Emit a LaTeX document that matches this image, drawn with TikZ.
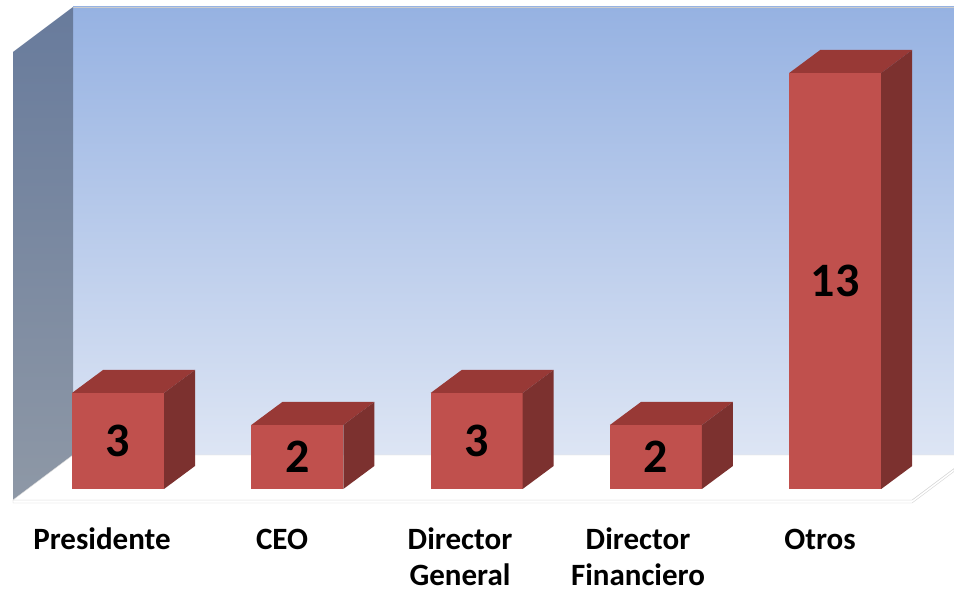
\documentclass[tikz,border=0pt]{standalone}
\usepackage{fontspec}
\setmainfont{Carlito}
\definecolor{barfront}{RGB}{192,80,77}
\definecolor{bartop}{RGB}{152,57,54}
\definecolor{barside}{RGB}{124,49,47}
\definecolor{walltop}{RGB}{150,178,226}
\definecolor{wallbot}{RGB}{221,229,244}
\definecolor{sidetop}{RGB}{104,123,156}
\definecolor{sidebot}{RGB}{142,152,166}
\tikzset{
  barlabel/.style={font=\fontsize{31}{36}\selectfont\bfseries, align=center, anchor=base, inner sep=0pt},
  barvalue/.style={font=\fontsize{48}{52}\selectfont\bfseries, inner sep=0pt}
}

\begin{document}
\begin{tikzpicture}[x=1pt,y=-1pt]
  \useasboundingbox (0,0) rectangle (954,593);
  % back wall and side wall
  \shade[top color=walltop, bottom color=wallbot] (73,7) rectangle (954,455);
  \draw[gray!40] (73,7) -- (954,7);
  \shade[top color=sidetop, bottom color=sidebot] (13,52) -- (73,7) -- (73,455) -- (13,500) -- cycle;
  % floor
  \draw[gray!35, fill=white] (13,503) -- (912,503) -- (954,471.5) -- (954,468.5) -- (912,500) -- (13,500) -- cycle;
  \draw[gray!35, fill=white] (13,500) -- (73,455) -- (972,455) -- (912,500) -- cycle;
  % bars
  \foreach \v [count=\i from 0] in {3,2,3,2,13} {
    \pgfmathsetmacro\xa{72+179.3*\i}
    \pgfmathsetmacro\yt{489-32*\v}
    \fill[barfront] (\xa,\yt) rectangle ({\xa+92},489);
    \fill[bartop] (\xa,\yt) -- ++(31,-23) -- ++(92,0) -- ++(-31,23) -- cycle;
    \fill[barside] ({\xa+92},\yt) -- ++(31,-23) -- ({\xa+123},466) -- ({\xa+92},489) -- cycle;
    \node[barvalue] (v\i) at ({\xa+46},{(\yt+489)/2}) {\v};
  }
  % category labels (base = last line)
  \node[barlabel] (p)  at (102,550) {Presidente};
  \node[barlabel] (c)  at (282,550) {CEO};
  \node[barlabel] (dg) at (460,586) {Director\\General};
  \node[barlabel] (df) at (638,586) {Director\\Financiero};
  \node[barlabel] (o)  at (820,550) {Otros};
\end{tikzpicture}
\end{document}
